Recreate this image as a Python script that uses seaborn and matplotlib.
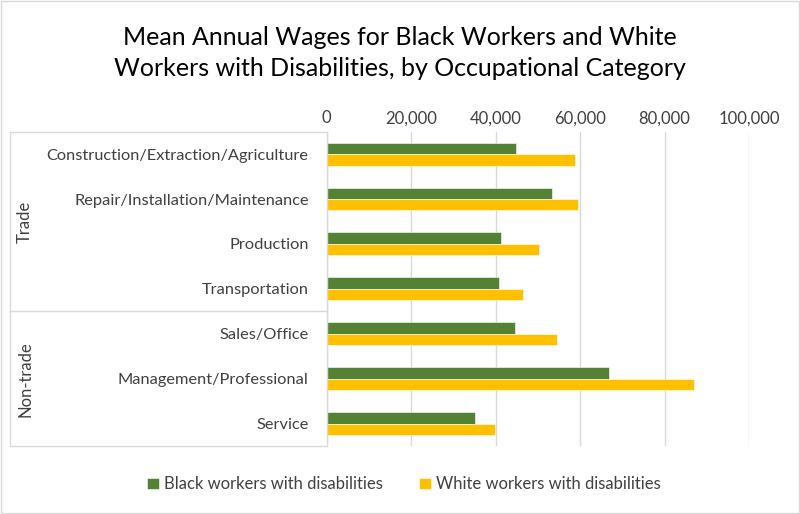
import matplotlib
matplotlib.use("Agg")
import matplotlib.pyplot as plt
import matplotlib.transforms as mtransforms
from matplotlib.ticker import FuncFormatter
from matplotlib.lines import Line2D
from matplotlib.patches import Rectangle
import pandas as pd
import seaborn as sns

# ── Data ─────────────────────────────────────────
categories = ["Construction/Extraction/Agriculture", "Repair/Installation/Maintenance",
              "Production", "Transportation", "Sales/Office",
              "Management/Professional", "Service"]
groups = ["Trade", "Non-trade"]
group_sizes = [4, 3]
black_wages = [44800, 53300, 41300, 40800, 44500, 66900, 35200]
white_wages = [58700, 59400, 50200, 46500, 54500, 87000, 39900]
series = ["Black workers with disabilities", "White workers with disabilities"]
colors = ["#548235", "#FFC000"]
x_ticks = [0, 20000, 40000, 60000, 80000, 100000]

df = pd.DataFrame({
    "category": categories * 2,
    "wage": black_wages + white_wages,
    "series": [series[0]] * len(categories) + [series[1]] * len(categories),
})

sns.set_style("white")
plt.rcParams["font.family"] = ["Lato", "DejaVu Sans"]

fig = plt.figure(figsize=(8, 5.14), dpi=100)
ax = fig.add_axes([0.4084, 0.1323, 0.528, 0.6115])

sns.barplot(data=df, y="category", x="wage", hue="series", order=categories,
            hue_order=series, palette=colors, saturation=1, orient="h", width=0.51,
            edgecolor="white", linewidth=0.4, ax=ax, legend=True)

ax.set_xlim(0, 100000)
ax.set_ylim(len(categories) - 0.5, -0.5)
ax.set_xticks(x_ticks)
ax.xaxis.set_major_formatter(FuncFormatter(lambda v, p: f"{int(v):,}"))
ax.xaxis.tick_top()
ax.tick_params(axis="x", length=0, labelsize=12, colors="#404040", pad=4)
ax.tick_params(axis="y", length=0, labelsize=11.8, colors="#404040", pad=13)
ax.set_xlabel("")
ax.set_ylabel("")
ax.grid(True, axis="x", color="#d9d9d9", linewidth=1)
ax.set_axisbelow(True)
for s in ["top", "right", "bottom"]:
    ax.spines[s].set_visible(False)
ax.spines["left"].set_color("#d9d9d9")
ax.spines["left"].set_linewidth(1)

# group boxes for the category axis
trans = mtransforms.blended_transform_factory(ax.transAxes, ax.transData)
x_out = -0.75
line_kw = dict(color="#d9d9d9", linewidth=1, transform=trans, clip_on=False)
bounds = [-0.5]
for n in group_sizes:
    bounds.append(bounds[-1] + n)
for b in bounds:
    ax.add_line(Line2D([x_out, 0], [b, b], **line_kw))
ax.add_line(Line2D([x_out, x_out], [bounds[0], bounds[-1]], **line_kw))
for g, lo, hi in zip(groups, bounds[:-1], bounds[1:]):
    ax.text(x_out + 0.036, (lo + hi) / 2, g, rotation=90, ha="center", va="center",
            fontsize=12, color="#404040", transform=trans)

# legend
handles, labels = ax.get_legend_handles_labels()
ax.legend(handles, labels, loc="center", bbox_to_anchor=(0.505, 0.058),
          bbox_transform=fig.transFigure, ncol=2, frameon=False, fontsize=12,
          handlelength=0.7, handleheight=0.7, handletextpad=0.3, columnspacing=2.2,
          labelcolor="#404040")

fig.suptitle("Mean Annual Wages for Black Workers and White\n"
             "Workers with Disabilities, by Occupational Category",
             x=0.5, y=0.95, fontsize=18, color="#000000", linespacing=1.45)

fig.patches.append(Rectangle((0.001, 0.001), 0.998, 0.997, transform=fig.transFigure,
                             fill=False, edgecolor="#d9d9d9", linewidth=1))

fig.savefig("out.png", dpi=100, facecolor="white")
